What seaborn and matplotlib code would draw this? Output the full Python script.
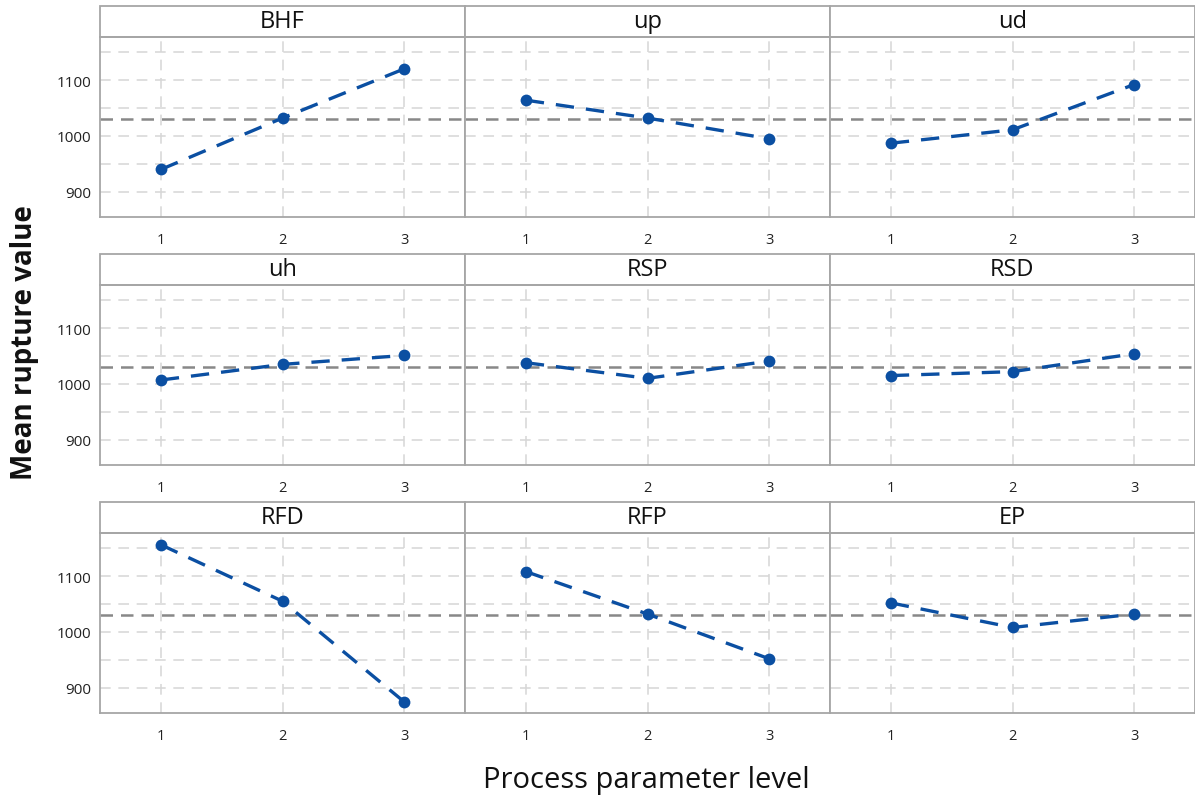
import numpy as np
import pandas as pd
import matplotlib
matplotlib.use("Agg")
import matplotlib.pyplot as plt
import seaborn as sns
from matplotlib.patches import Rectangle

# ---------------- data ----------------
params = ["BHF", "up", "ud", "uh", "RSP", "RSD", "RFD", "RFP", "EP"]
levels = [1, 2, 3]
bhf = [940, 1032, 1120]
up = [1064, 1032, 995]
ud = [987, 1011, 1092]
uh = [1007, 1035, 1051]
rsp = [1038, 1010, 1041]
rsd = [1015, 1022, 1054]
rfd = [1156, 1055, 875]
rfp = [1108, 1032, 952]
ep = [1052, 1008, 1032]
grand_mean = 1031
yticks = [900, 1000, 1100]
minor_yticks = [950, 1050, 1150]
xtick_labels = ["1", "2", "3"]
ylabel = "Mean rupture value"
xlabel = "Process parameter level"

series = [bhf, up, ud, uh, rsp, rsd, rfd, rfp, ep]
df = pd.DataFrame({
    "param": np.repeat(params, len(levels)),
    "level": levels * len(params),
    "value": np.concatenate(series),
})

# ---------------- style ----------------
sns.set_theme(style="white")
plt.rcParams["font.family"] = ["Open Sans", "DejaVu Sans"]

blue = "#0b4fa2"
spine_c = "#a6a6a6"
grid_c = "#d6d6d6"
mean_c = "#888888"

W, H = 1195, 803
g = sns.FacetGrid(df, col="param", col_wrap=3, col_order=params,
                  sharex=True, sharey=True, height=1.8, aspect=2.03,
                  despine=False)
g.figure.set_size_inches(W / 100, H / 100)
g.map_dataframe(sns.lineplot, x="level", y="value", color=blue,
                lw=2.4, marker="o", markersize=8.5, markeredgewidth=0,
                linestyle=(0, (5.5, 3.6)), zorder=5)

g.set_titles("")
g.set_axis_labels("", "")

strip_h = 31 / 180
for name, ax in zip(params, g.axes.flat):
    ax.set_xlim(0.5, 3.5)
    ax.set_ylim(855, 1177)
    ax.set_xticks(levels)
    ax.set_xticklabels(xtick_labels)
    ax.set_yticks(yticks)
    ax.set_yticks(minor_yticks, minor=True)
    ax.tick_params(axis="x", labelbottom=True, length=5, width=1,
                   color=spine_c, labelsize=10.5, pad=6, labelcolor="#222222")
    ax.tick_params(axis="y", which="major", length=4, width=1,
                   color=spine_c, labelsize=11, pad=2, labelcolor="#222222")
    ax.tick_params(axis="y", which="minor", length=0)
    ax.grid(True, which="both", axis="y", color=grid_c, lw=1.1,
            linestyle=(0, (7, 5)), zorder=0)
    ax.grid(True, which="major", axis="x", color=grid_c, lw=1.1,
            linestyle=(0, (7, 5)), zorder=0)
    ax.set_axisbelow(True)
    ax.axhline(grand_mean, color=mean_c, lw=1.8, linestyle=(0, (5, 3.2)),
               zorder=2)
    for s in ax.spines.values():
        s.set_color(spine_c)
        s.set_linewidth(1.3)
    ax.add_patch(Rectangle((0, 1), 1, strip_h, transform=ax.transAxes,
                           clip_on=False, facecolor="white",
                           edgecolor=spine_c, lw=1.3))
    ax.text(0.5, 1 + strip_h / 2, name, transform=ax.transAxes,
            ha="center", va="center", fontsize=17, color="#111111")
    ax.set_xlabel("")
    ax.set_ylabel("")

g.figure.subplots_adjust(left=100 / W, right=1.0, top=1 - 38 / H,
                         bottom=1 - 714 / H, wspace=0, hspace=68 / 180)

g.figure.text(25 / W, 1 - 343 / H, ylabel, rotation=90, ha="center",
              va="center", fontsize=20, fontweight="bold", color="#111111")
g.figure.text(646 / W, 1 - 781 / H, xlabel, ha="center", va="center",
              fontsize=21, color="#111111")

g.figure.savefig("out.png", dpi=100)
